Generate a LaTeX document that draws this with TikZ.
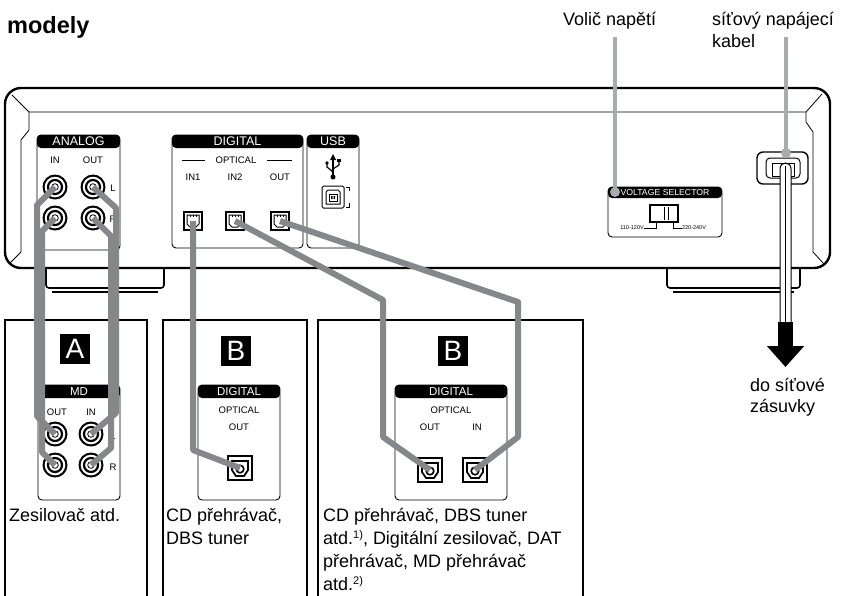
\documentclass[tikz,border=0pt]{standalone}
\usepackage{fontspec}
\setmainfont{Liberation Sans}
\usetikzlibrary{positioning, arrows.meta, calc}
\definecolor{cablegray}{HTML}{85878A}
\definecolor{leadgray}{HTML}{A9ABAE}
\newcommand\fnmark[1]{\raisebox{6pt}{\fontsize{11}{11}\selectfont #1)}}
\tikzset{%
	body/.style={draw, line width=2.4pt},
	trim/.style={draw, line width=0.8pt},
	panel/.style={draw, line width=0.9pt, rounded corners=4pt, inner sep=0pt,%
		path picture={\fill (path picture bounding box.north west) rectangle ([yshift=-#1]path picture bounding box.north east);}},
	panel/.default=13pt,
	htext/.style={text=white, inner sep=0pt, font=\fontsize{12.5}{12.5}\selectfont},
	lbl/.style={inner sep=0pt, font=\fontsize{9.5}{9.5}\selectfont},
	tinylbl/.style={inner sep=0pt, font=\fontsize{5.5}{5.5}\selectfont},
	cable/.style={draw=cablegray, line width=6pt, line join=round},
	leader/.style={draw=leadgray, line width=3.5pt, shorten <=8pt},
	box/.style={draw, line width=1.6pt},
	badge/.style={fill=black, text=white, minimum width=30pt, minimum height=30pt,%
		inner sep=0pt, font=\fontsize{28}{28}\selectfont},
	caption/.style={anchor=base west, inner sep=0pt, font=\fontsize{18}{24}\selectfont},
	rca/.pic={
		\fill (0,0) circle[radius=12.5pt];
		\fill[white] (0,0) circle[radius=10.3pt];
		\draw[line width=2.2pt] (0,0) circle[radius=7pt];
		\draw[line width=0.8pt] (0,0) circle[radius=3.3pt];
	},
	optport/.pic={
		\draw[line width=1.2pt, fill=white] (-9,-9) rectangle (9,9);
		\draw[line width=1pt] (-6,-6) -- (6,-6) -- (6,3) -- (3,6) -- (-3,6) -- (-6,3) -- cycle;
		\draw[line width=0.6pt] (-3,-6) -- (-3,-4) (0,-6) -- (0,-4) (3,-6) -- (3,-4);
	},
	optjack/.pic={
		\draw[line width=1.2pt, fill=white] (-12,-12) rectangle (12,12);
		\draw[line width=1.8pt] (-8,-7) -- (8,-7) -- (8,2) -- (4,8) -- (-4,8) -- (-8,2) -- cycle;
		\draw[line width=1.6pt] (0,1) circle[radius=3.8pt];
	}
}

\begin{document}
\begin{tikzpicture}[x=1pt, y=-1pt]
	\clip (0,0) rectangle (842,595);
	\fill[white] (0,0) rectangle (842,595);

	% heading and labels on top
	\node[anchor=base west, inner sep=0pt, font=\fontsize{23.5}{23.5}\bfseries] (title) at (7,33) {modely};
	\node[caption] (volic) at (563,25) {Volič napětí};
	\node[caption] (sitovy) at (712,25) {síťový napájecí};
	\node[caption] (kabel) at (712,47) {kabel};

	% rear of the unit
	\draw[body, rounded corners=16pt] (5,88) rectangle (830,268);
	\draw[trim] (12,95) -- (29,112) -- (806,112) -- (822,94);
	\draw[trim] (29,112) -- (29,130) -- (21,140) -- (21,252) -- (10,263);
	\draw[trim] (806,112) -- (806,122) -- (813,132) -- (813,252) -- (824,264);
	\draw[line width=1.6pt, rounded corners=3pt] (46,268) -- (46,288) -- (164,288) -- (164,268);
	\draw[line width=1.2pt] (52,292) -- (158,292);
	\draw[line width=1.6pt, rounded corners=3pt] (667,268) -- (667,288) -- (800,288) -- (800,268);
	\draw[line width=1.2pt] (673,292) -- (794,292);

	% analog panel
	\node[panel, minimum width=83pt, minimum height=115pt] (analog) at (78.5,192.5) {};
	\node[htext] at ([yshift=-6.5pt]analog.north) {ANALOG};
	\node[lbl] at (55,160) {IN};
	\node[lbl] at (93,160) {OUT};
	\node[lbl] at (113,188) {L};
	\node[lbl] at (113,219) {R};
	\coordinate (anInL) at (55,187);
	\coordinate (anOutL) at (93,187);
	\coordinate (anInR) at (55,218);
	\coordinate (anOutR) at (93,218);

	% digital panel
	\node[panel, minimum width=131pt, minimum height=113pt] (digital) at (237.5,191.5) {};
	\node[htext] at ([yshift=-6.5pt]digital.north) {DIGITAL};
	\node[lbl] (optical) at (236,160) {OPTICAL};
	\draw[line width=0.7pt] (182,160) -- (205,160) (267,160) -- (292,160);
	\node[lbl] at (193,177) {IN1};
	\node[lbl] at (235,177) {IN2};
	\node[lbl] at (280,177) {OUT};
	\coordinate (optIn1) at (193,221);
	\coordinate (optIn2) at (235,221);
	\coordinate (optOut) at (280,221);
	\foreach \p in {optIn1, optIn2, optOut}
		\pic at (\p) {optport};

	% usb panel
	\node[panel, minimum width=52pt, minimum height=113pt] (usb) at (333,191.5) {};
	\node[htext] at ([yshift=-6.5pt]usb.north) {USB};
	\draw[line width=1.2pt] (333,159) -- (333,176);
	\fill (333,177) circle[radius=2.5pt];
	\fill (333,154) -- (330,160) -- (336,160) -- cycle;
	\draw[line width=1.2pt] (333,172) -- (327,167) -- (327,164);
	\fill (327,163) circle[radius=1.8pt];
	\draw[line width=1.2pt] (333,169) -- (339,165) -- (339,162);
	\fill (337.3,158.5) rectangle (340.7,161.9);
	\draw[line width=1pt, rounded corners=1.5pt] (322,186) rectangle (344,208);
	\draw[line width=1pt] (328,190) -- (338,190) -- (340,192) -- (340,204) -- (326,204) -- (326,192) -- cycle;
	\draw[line width=0.8pt] (329,194) rectangle (337,201);
	\fill (331,196) rectangle (332.5,199) (333.5,196) rectangle (335,199);
	\draw[line width=0.6pt] (346,187) -- (349,187) -- (349,191) (346,207) -- (349,207) -- (349,203);

	% voltage selector
	\node[panel=11pt, minimum width=114pt, minimum height=50pt] (volt) at (665,212) {};
	\node[htext, font=\fontsize{8.7}{8.7}\selectfont] at ([yshift=-5.5pt]volt.north) {VOLTAGE SELECTOR};
	\draw[line width=1.2pt] (650,205) rectangle (678,222);
	\draw[line width=0.8pt] (664,207) -- (664,220) (668,207) -- (668,220);
	\node[tinylbl] (low) at (632,228) {110-120V};
	\node[tinylbl] (high) at (694,228) {220-240V};
	\draw[line width=0.6pt] (low.east) -- (656,228) -- (656,222);
	\draw[line width=0.6pt] (high.west) -- (673,228) -- (673,222);

	% mains inlet and cord
	\draw[line width=1.4pt, rounded corners=6pt] (757,152) rectangle (808,184);
	\draw[line width=1pt, rounded corners=4pt] (766,158) rectangle (800,178);
	\draw[line width=0.8pt] (772,163) rectangle (794,176);
	\fill[white] (780,164) rectangle (791,322);
	\draw[line width=1pt] (780,322) -- (780,169) .. controls (780,161) and (791,161) .. (791,169) -- (791,322);
	\draw[line width=0.8pt] (785.5,166) -- (785.5,322);
	\coordinate (cordEnd) at (785.5,322);
	\coordinate (plugTip) at (785.5,367);
	\draw[line width=15pt, -{Triangle[length=21pt, width=36pt]}] (cordEnd) -- (plugTip);
	\node[caption] (dosit) at (750,391) {do síťové};
	\node[caption] (zasuv) at (750,412) {zásuvky};

	% leaders
	\coordinate (voltDot) at (615,192);
	\coordinate (cordDot) at (786,153);
	\draw[leader] (volic.south -| voltDot) -- (voltDot);
	\draw[leader] (sitovy.south -| cordDot) -- (cordDot);
	\fill[leadgray] (voltDot) circle[radius=5pt];
	\fill[leadgray] (cordDot) circle[radius=5pt];

	% boxes below
	\draw[box] (5,320) rectangle (147,600);
	\draw[box] (163,320) rectangle (307,600);
	\draw[box] (318,320) rectangle (583,600);

	% amplifier (A)
	\node[panel, minimum width=82pt, minimum height=115pt] (md) at (79,442.5) {};
	\node[htext, font=\fontsize{11.5}{11.5}\selectfont] at ([yshift=-6.5pt]md.north) {MD};
	\node[badge, above=20pt of md, xshift=-4pt] (badgeA) {A};
	\node[lbl] at (57,412) {OUT};
	\node[lbl] at (91,412) {IN};
	\node[lbl] at (113,436) {L};
	\node[lbl] at (113,467) {R};
	\coordinate (mdOutL) at (55,434);
	\coordinate (mdInL) at (91,434);
	\coordinate (mdOutR) at (55,465);
	\coordinate (mdInR) at (91,465);
	\foreach \j in {anInL, anOutL, anInR, anOutR, mdOutL, mdInL, mdOutR, mdInR}
		\pic at (\j) {rca};
	\node[caption] (capA) at (9,521) {Zesilovač atd.};

	% CD player (B)
	\node[panel, minimum width=82pt, minimum height=115pt] (bone) at (239,442.5) {};
	\node[htext, font=\fontsize{11.5}{11.5}\selectfont] at ([yshift=-6.5pt]bone.north) {DIGITAL};
	\node[badge, above=18pt of bone, xshift=-3pt] (badgeB1) {B};
	\node[lbl] at (239,410) {OPTICAL};
	\node[lbl] at (239,427) {OUT};
	\coordinate (b1Out) at (240,468);
	\pic at (b1Out) {optjack};
	\node[caption] (capB1a) at (166,521) {CD přehrávač,};
	\node[caption] (capB1b) at ([yshift=-23pt]capB1a.base west) {DBS tuner};

	% digital recorder (B)
	\node[panel, minimum width=112pt, minimum height=115pt] (btwo) at (451,442.5) {};
	\node[htext, font=\fontsize{11.5}{11.5}\selectfont] at ([yshift=-6.5pt]btwo.north) {DIGITAL};
	\node[badge, above=18pt of btwo, xshift=2pt] (badgeB2) {B};
	\node[lbl] at (451,410) {OPTICAL};
	\node[lbl] at (430,427) {OUT};
	\node[lbl] at (477,427) {IN};
	\coordinate (b2Out) at (430,470);
	\coordinate (b2In) at (475,470);
	\pic at (b2Out) {optjack};
	\pic at (b2In) {optjack};
	\node[caption] (capB2a) at (323,521) {CD přehrávač, DBS tuner};
	\node[caption] (capB2b) at ([yshift=-23pt]capB2a.base west) {atd.\fnmark{1}, Digitální zesilovač, DAT};
	\node[caption] (capB2c) at ([yshift=-23pt]capB2b.base west) {přehrávač, MD přehrávač};
	\node[caption] (capB2d) at ([yshift=-23pt]capB2c.base west) {atd.\fnmark{2}};

	% cables
	\draw[cable] (anInL) -- (37,205) -- (37,416) -- (mdOutL);
	\draw[cable] (anInR) -- (42,231) -- (42,452) -- (mdOutR);
	\draw[cable] (anOutL) -- (116,208) -- (116,413) -- (mdInL);
	\draw[cable] (anOutR) -- (111,236) -- (111,448) -- (mdInR);
	\draw[cable] (optIn1) -- (193,450) -- (b1Out);
	\draw[cable] (optIn2) -- (383,300) -- (383,437) -- (b2Out);
	\draw[cable] (optOut) -- (518,302) -- (518,437) -- (b2In);
\end{tikzpicture}
\end{document}
